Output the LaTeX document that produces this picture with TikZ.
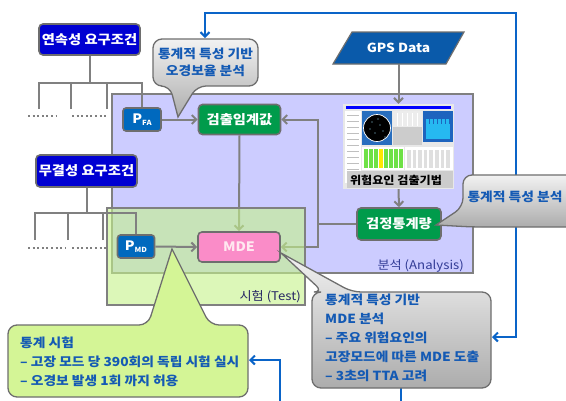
\documentclass[tikz,border=0pt]{standalone}
\usepackage{fontspec}
\setmainfont[FakeStretch=1.1]{Noto Sans CJK KR}
\usetikzlibrary{arrows.meta}
\pgfdeclarelayer{background}
\pgfsetlayers{background,main}
\definecolor{reqblue}{RGB}{0,0,210}
\definecolor{pblue}{RGB}{0,105,190}
\definecolor{gpsblue}{RGB}{10,90,170}
\definecolor{ngreen}{RGB}{0,155,75}
\definecolor{mdepink}{RGB}{250,140,200}
\definecolor{mdetext}{RGB}{255,232,240}
\definecolor{lav}{RGB}{204,204,255}
\definecolor{tgreen}{RGB}{197,243,138}
\definecolor{lgray}{RGB}{128,128,128}
\definecolor{bdgray}{RGB}{110,110,110}
\definecolor{lblue}{RGB}{10,100,200}
\definecolor{ctext}{RGB}{20,90,180}
\definecolor{cgreen}{RGB}{212,245,150}
\definecolor{cgtop}{RGB}{242,242,242}
\definecolor{cgbot}{RGB}{172,172,172}
\definecolor{lbltext}{RGB}{50,60,150}
\definecolor{tlbltext}{RGB}{40,40,100}
\definecolor{scrbg}{RGB}{232,232,232}
\definecolor{radblue}{RGB}{40,110,190}
\definecolor{cpanel}{RGB}{30,100,190}
\definecolor{gbar}{RGB}{110,225,70}
\tikzset{
  conn/.style={draw=lgray, line width=2pt},
  arr/.style={conn, -{Straight Barb[length=4.5pt,width=9pt]}},
  bline/.style={draw=lblue, line width=2pt},
  barr/.style={bline, -{Straight Barb[length=4.5pt,width=9pt]}},
  nbox/.style={draw=bdgray, line width=1.6pt, rounded corners=4pt, inner sep=0pt, text=white, font=\bfseries\fontsize{13}{15}\selectfont},
  reqbox/.style={nbox, fill=reqblue, minimum width=101pt, minimum height=31pt},
  pbox/.style={nbox, fill=pblue, minimum width=38pt, minimum height=23pt, rounded corners=3pt},
  gbox/.style={nbox, fill=ngreen, minimum width=82pt, minimum height=30pt},
  ctxt/.style={text=ctext, font=\bfseries\fontsize{12.5}{19}\selectfont, inner sep=0pt},
  callg/.style={draw=bdgray, line width=1.3pt, top color=cgtop, bottom color=cgbot},
  dots/.style={draw=lgray, line width=2pt, dash pattern=on 2pt off 2.6pt},
  lbl/.style={inner sep=0pt, anchor=east, font=\fontsize{12}{14}\selectfont},
}
\begin{document}
\begin{tikzpicture}[x=1pt,y=-1pt]
\useasboundingbox (0,0) rectangle (566,400);
\clip (0,0) rectangle (566,400);

% ---------- main nodes ----------
\node[reqbox] (req1) at (89.5,39.5) {연속성 요구조건};
\node[reqbox, minimum height=32pt] (req2) at (86.5,171) {무결성 요구조건};
\node[pbox] (pfa) at (142,119.5) {P\raisebox{-0.3ex}{\fontsize{7}{7}\selectfont FA}};
\node[pbox, minimum width=37pt] (pmd) at (136,246.5) {P\raisebox{-0.3ex}{\fontsize{7}{7}\selectfont MD}};
\node[gbox] (thr) at (239.5,119.5) {검출임계값};
\node[gbox, fill=mdepink, text=mdetext] (mde) at (239,247) {MDE};
\node[gbox, minimum width=84pt, minimum height=32pt] (stat) at (399,224) {검정통계량};

% ---------- GPS data ----------
\filldraw[fill=gpsblue, draw=bdgray, line width=1.2pt] (352,32) -- (464,32) -- (446,64) -- (333,64) -- cycle;
\node[inner sep=0pt, minimum width=95pt, minimum height=32pt, text=white, font=\bfseries\fontsize{12.5}{15}\selectfont] (gps) at (398.5,48) {GPS Data};

% ---------- screenshot mock ----------
\node[inner sep=0pt, minimum width=111pt, minimum height=85pt] (scr) at (398.5,146.5) {};
\fill[scrbg] (343,104) rectangle (454,189);
\fill[blue] (346,106) rectangle (451,108.5);
\fill[white] (345,111) rectangle (361,183);
\foreach \yy in {115,121,127,133,139,145,151,157,163,169}
  \draw[gray!50, line width=0.6pt] (347,\yy) -- (359,\yy);
\fill[radblue] (362,111) rectangle (392,145);
\fill[black] (377,128) circle (13.5);
\draw[white, line width=0.7pt] (377,128) circle (13.5);
\foreach \p in {(372,122),(380,125),(375,133),(383,131),(370,129),(378,119),(385,137)}
  \fill[cyan!40] \p circle (0.6);
\fill[gray!40] (393,111) rectangle (422,145);
\fill[gray!15] (393,111) rectangle (422,127);
\foreach \xx in {397,402,...,420}
  \draw[white, line width=0.6pt] (\xx,113) -- (\xx,126);
\fill[cpanel] (423,111) rectangle (453,142);
\fill[cyan!85!white] (426,119) rectangle (450,139);
\foreach \xx in {429,433,...,449}
  \draw[cpanel, line width=0.5pt] (\xx,119) -- (\xx,124);
\fill[white] (362,147) rectangle (404,170);
\foreach \i in {0,...,7}
  \fill[gbar] (363.5+5*\i,149) rectangle (367.5+5*\i,168);
\fill[yellow!90!orange] (378.5,149) rectangle (382.5,168);
\fill[white] (405,147) rectangle (453,170);
\foreach \i in {0,...,7}
  \fill[gray!25] (407+5.6*\i,150) rectangle (410.5+5.6*\i,168);
\fill[gray!40] (347,171) rectangle (453,188);
\node[inner sep=0pt, font=\bfseries\fontsize{11}{13}\selectfont] (scrlbl) at (396,180) {위험요인 검출기법};

% ---------- background: boxes and tinted arrows ----------
\begin{pgfonlayer}{background}
\fill[white] (0,0) rectangle (566,400);
\node[draw=lgray, line width=2pt, fill=lav, minimum width=361pt, minimum height=179pt, inner sep=0pt] (anal) at (292.5,183.5) {};
\draw[arr] (thr.south) -- (mde.north);
\coordinate (jn) at (318,224);
\draw[conn] (stat.west) -- (jn);
\draw[arr] (jn) |- (thr.east);
\draw[arr] (jn) |- (mde.east);
\node[draw=lgray, line width=2pt, fill=tgreen, fill opacity=0.6, draw opacity=1, minimum width=198pt, minimum height=97pt, inner sep=0pt] (test) at (206,256.5) {};
\end{pgfonlayer}

\node[lbl, text=lbltext] (albl) at (464,266) {분석 (Analysis)};
\node[lbl, text=tlbltext] (tlbl) at (301,297) {시험 (Test)};

% ---------- arrows ----------
\draw[arr] (pfa.east) -- (thr.west);
\draw[arr] (pmd.east) -- (mde.west);
\draw[arr] (gps.south) -- (scr.north);
\draw[arr] (scr.south) -- (stat.north);

% ---------- trees ----------
\coordinate (h1) at (89.5,83);
\coordinate (h1a) at (39,109);
\coordinate (h1b) at (71,109);
\coordinate (h1c) at (107,109);
\draw[conn] (req1.south) -- (h1);
\draw[conn] (h1a) |- (pfa.north |- h1) -- (pfa.north);
\draw[conn] (h1b) -- (h1b |- h1);
\draw[conn] (h1c) -- (h1c |- h1);
\coordinate (d1a) at (28,116);
\coordinate (d1b) at (56,116);
\coordinate (d1c) at (72,116);
\coordinate (d1d) at (108,116);
\draw[dots] (d1a) -- (d1b);
\draw[dots] (d1c) -- (d1d);

\coordinate (h2) at (86.5,213);
\coordinate (h2a) at (35,240);
\coordinate (h2b) at (68,240);
\coordinate (h2c) at (103,240);
\draw[conn] (req2.south) -- (h2);
\draw[conn] (h2a) |- (pmd.north |- h2) -- (pmd.north);
\draw[conn] (h2b) -- (h2b |- h2);
\draw[conn] (h2c) -- (h2c |- h2);
\coordinate (d2a) at (28,248);
\coordinate (d2b) at (66,248);
\coordinate (d2c) at (72,248);
\coordinate (d2d) at (108,248);
\draw[dots] (d2a) -- (d2b);
\draw[dots] (d2c) -- (d2d);

% ---------- blue feedback lines ----------
\coordinate (ca3top) at (516,176);
\coordinate (ca1top) at (205,38);
\coordinate (ca3bot) at (516,226);
\coordinate (ca4e) at (492,337);
\coordinate (ca4bot) at (401,387);
\coordinate (ca5e) at (249,360);
\draw[barr] (ca3top) -- (516,13) -| (ca1top);
\draw[barr] (ca3bot) |- (ca4e);
\draw[barr] (ca4bot) -- (401,415) -| (280,380) |- (ca5e);

% ---------- callouts ----------
\path[callg] [rounded corners=9pt] (205,39) -- (258,39) -- (258,86) -- (197,86) [sharp corners] -- (178,117) [rounded corners=9pt] -- (170,86) -- (153,86) -- (153,39) -- cycle;
\node[ctxt, align=center] (c1) at (205.5,62) {통계적 특성 기반\\[-2pt]오경보율 분석};

\path[callg] [rounded corners=9pt] (520,175) -- (590,175) -- (590,227) -- (473,227) [sharp corners] -- (436,225) [rounded corners=9pt] -- (463,207) -- (463,175) -- cycle;
\node[ctxt] (c3) at (515,197) {통계적 특성 분석};

\path[callg] [rounded corners=9pt] (400,292) -- (491,292) -- (491,388) -- (312,388) -- (312,292) -- (323,292) [sharp corners] -- (281,253) [rounded corners=9pt] -- (352,292) -- cycle;
\node[ctxt, align=left, anchor=west] (c4) at (325,338) {통계적 특성 기반\\MDE 분석\\– 주요 위험요인의\\고장모드에 따른 MDE 도출\\– 3초의 TTA 고려};

\path[draw=bdgray, line width=1.3pt, fill=cgreen] [rounded corners=9pt] (100,325) -- (148,325) [sharp corners] -- (172,249) [rounded corners=9pt] -- (210,325) -- (248,325) -- (248,397) -- (8,397) -- (8,325) -- cycle;
\node[ctxt, align=left, anchor=west] (c5) at (20,362) {통계 시험\\– 고장 모드 당 390회의 독립 시험 실시\\– 오경보 발생 1회 까지 허용};
\end{tikzpicture}
\end{document}
